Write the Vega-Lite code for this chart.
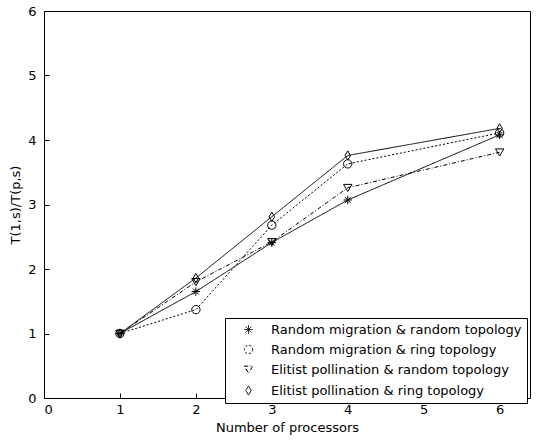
{
  "$schema": "https://vega.github.io/schema/vega-lite/v6.json",
  "width": 486,
  "height": 387,
  "autosize": {"type": "none"},
  "padding": {"left": 44, "top": 11, "right": 6, "bottom": 43},
  "background": "white",
  "config": {
    "view": {"stroke": "black", "strokeWidth": 1},
    "font": "DejaVu Sans",
    "axis": {"domain": false, "grid": false, "labelFont": "DejaVu Sans", "labelFontSize": 13, "labelColor": "black", "titleFont": "DejaVu Sans", "titleFontSize": 13, "titleFontWeight": "normal", "titleColor": "black", "tickColor": "black", "tickSize": -5, "format": "d"}
  },
  "data": {"values": [
    {"p": 1, "s": 1.0, "series": "Random migration & random topology"},
    {"p": 2, "s": 1.65, "series": "Random migration & random topology"},
    {"p": 3, "s": 2.41, "series": "Random migration & random topology"},
    {"p": 4, "s": 3.07, "series": "Random migration & random topology"},
    {"p": 6, "s": 4.08, "series": "Random migration & random topology"},
    {"p": 1, "s": 1.0, "series": "Random migration & ring topology"},
    {"p": 2, "s": 1.37, "series": "Random migration & ring topology"},
    {"p": 3, "s": 2.68, "series": "Random migration & ring topology"},
    {"p": 4, "s": 3.63, "series": "Random migration & ring topology"},
    {"p": 6, "s": 4.11, "series": "Random migration & ring topology"},
    {"p": 1, "s": 1.0, "series": "Elitist pollination & random topology"},
    {"p": 2, "s": 1.8, "series": "Elitist pollination & random topology"},
    {"p": 3, "s": 2.42, "series": "Elitist pollination & random topology"},
    {"p": 4, "s": 3.26, "series": "Elitist pollination & random topology"},
    {"p": 6, "s": 3.81, "series": "Elitist pollination & random topology"},
    {"p": 1, "s": 1.0, "series": "Elitist pollination & ring topology"},
    {"p": 2, "s": 1.86, "series": "Elitist pollination & ring topology"},
    {"p": 3, "s": 2.81, "series": "Elitist pollination & ring topology"},
    {"p": 4, "s": 3.76, "series": "Elitist pollination & ring topology"},
    {"p": 6, "s": 4.18, "series": "Elitist pollination & ring topology"}
  ]},
  "layer": [
    {
      "mark": {"type": "line", "color": "black", "strokeWidth": 1},
      "encoding": {
        "x": {"field": "p", "type": "quantitative", "scale": {"domain": [0, 6.4], "nice": false, "zero": false}, "axis": {"values": [0,1,2,3,4,5,6], "title": "Number of processors", "labelPadding": 10, "titlePadding": 5}},
        "y": {"field": "s", "type": "quantitative", "scale": {"domain": [0, 6], "nice": false}, "axis": {"values": [0,1,2,3,4,5,6], "title": "T(1,s)/T(p,s)", "labelPadding": 13, "titlePadding": 5}},
        "detail": {"field": "series"},
        "strokeDash": {"field": "series", "type": "nominal",
          "scale": {"domain": ["Random migration & random topology", "Random migration & ring topology", "Elitist pollination & random topology", "Elitist pollination & ring topology"],
                    "range": [[1,0], [2,2], [4,2,1,2], [1,0]]},
          "legend": {"title": null, "orient": "none", "legendX": 181, "legendY": 307, "strokeColor": "black", "fillColor": "white", "padding": 5, "labelFont": "DejaVu Sans", "labelFontSize": 13, "labelColor": "black", "symbolStrokeColor": "black", "symbolFillColor": "white", "symbolStrokeWidth": 1, "symbolSize": 70, "symbolOffset": 12, "rowPadding": 6, "labelLimit": 300, "labelOffset": 16}}
      }
    },
    {
      "mark": {"type": "point", "filled": false, "color": "black", "strokeWidth": 1, "size": 70, "opacity": 1},
      "encoding": {
        "x": {"field": "p", "type": "quantitative"},
        "y": {"field": "s", "type": "quantitative"},
        "shape": {"field": "series", "type": "nominal",
          "scale": {"domain": ["Random migration & random topology", "Random migration & ring topology", "Elitist pollination & random topology", "Elitist pollination & ring topology"],
                    "range": ["M-1,0L1,0M0,-1L0,1M-0.7,-0.7L0.7,0.7M-0.7,0.7L0.7,-0.7", "circle", "M-1,-0.8L1,-0.8L0,0.9Z", "M0,-1.1L0.65,0L0,1.1L-0.65,0Z"]},
          "legend": {"title": null, "orient": "none", "legendX": 181, "legendY": 307, "strokeColor": "black", "fillColor": "white", "padding": 5, "labelFont": "DejaVu Sans", "labelFontSize": 13, "labelColor": "black", "symbolStrokeColor": "black", "symbolFillColor": "white", "symbolStrokeWidth": 1, "symbolSize": 70, "symbolOffset": 12, "rowPadding": 6, "labelLimit": 300, "labelOffset": 16}
        }
      }
    }
  ]
}
